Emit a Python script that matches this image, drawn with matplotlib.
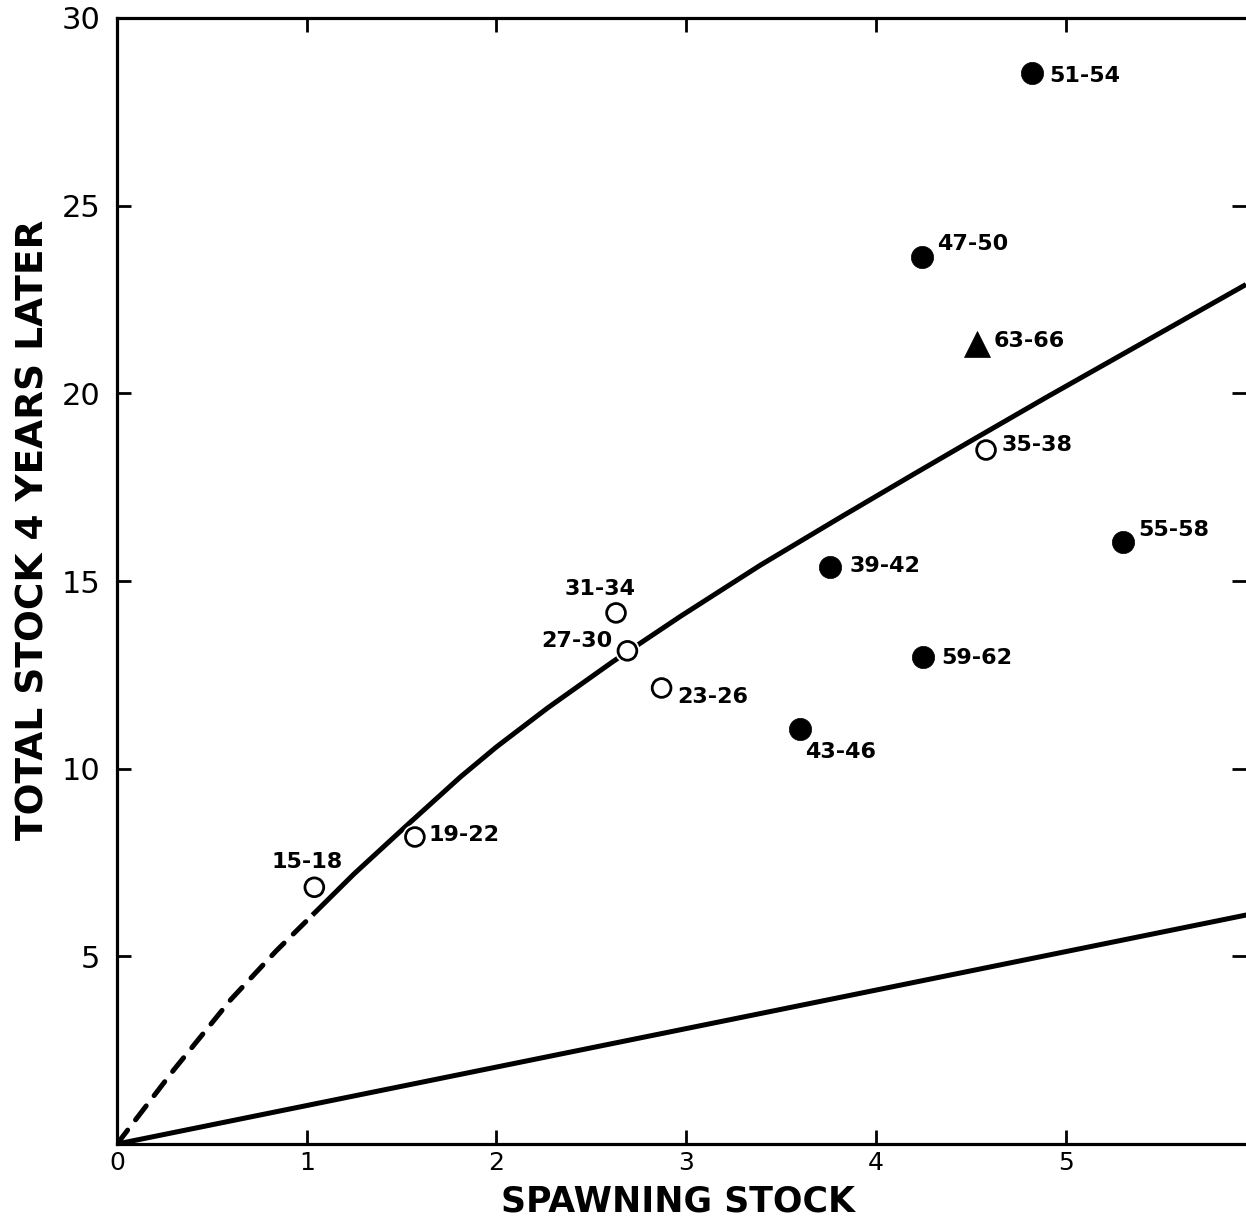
import matplotlib.pyplot as plt
import matplotlib.patheffects as pe

# spawning stock vs total stock 4 years later, by period
periods = ['15-18', '19-22', '23-26', '27-30', '31-34', '35-38',
           '39-42', '43-46', '47-50', '51-54', '55-58', '59-62', '63-66']
spawning = [1.04, 1.57, 2.87, 2.69, 2.63, 4.58,
            3.76, 3.60, 4.24, 4.82, 5.30, 4.25, 4.53]
later = [6.84, 8.18, 12.15, 13.14, 14.15, 18.49,
         15.37, 11.06, 23.63, 28.54, 16.04, 12.98, 21.32]
era = ['early'] * 6 + ['late'] * 6 + ['recent']

# fitted curve (dashed part is extrapolated to the origin)
curve_dash_x = [0.0, 0.30, 0.60, 0.84, 1.03]
curve_dash_y = [0.0, 1.98, 3.85, 5.15, 6.10]
curve_x = [1.03, 1.25, 1.53, 1.81, 2.00, 2.27, 2.61, 2.76, 2.97,
           3.39, 3.82, 4.20, 4.53, 4.90, 5.32, 5.95]
curve_y = [6.10, 7.20, 8.50, 9.78, 10.58, 11.62, 12.84, 13.35, 14.06,
           15.42, 16.72, 17.85, 18.82, 19.90, 21.10, 22.90]

# replacement line
repl_x = [0.0, 5.95]
repl_y = [0.0, 6.10]

x_ticks = [0, 1, 2, 3, 4, 5]
y_ticks = [5, 10, 15, 20, 25, 30]

# label offsets in points (dx, dy, ha)
label_pos = {
    '15-18': (-5, 18, 'center'), '19-22': (9.5, 1.5, 'left'),
    '23-26': (11, -6.5, 'left'), '27-30': (-11, 7, 'right'),
    '31-34': (-11.5, 17, 'center'), '35-38': (11, 3.5, 'left'),
    '39-42': (14, 0.5, 'left'), '43-46': (3.5, -16.5, 'left'),
    '47-50': (11.5, 9.5, 'left'), '51-54': (13, -2, 'left'),
    '55-58': (11.5, 8.5, 'left'), '59-62': (13, -0.5, 'left'),
    '63-66': (12, 2, 'left'),
}

plt.rcParams['font.family'] = ['DejaVu Sans']

fig = plt.figure(figsize=(12.46, 12.16), dpi=100)
ax = fig.add_axes([0.0939, 0.0592, 0.9061, 0.926])

ax.plot(curve_dash_x, curve_dash_y, color='black', lw=3.6, dashes=(3.5, 2.6),
        dash_capstyle='round', zorder=2)
ax.plot(curve_x, curve_y, color='black', lw=3.6, solid_capstyle='butt',
        solid_joinstyle='round', zorder=2)
ax.plot(repl_x, repl_y, color='black', lw=3.6, zorder=2)

for x, y, e in zip(spawning, later, era):
    if e == 'early':
        ax.plot(x, y, 'o', ms=13.5, mfc='white', mec='black', mew=2, zorder=4,
                path_effects=[pe.Stroke(linewidth=4.5, foreground='white'), pe.Normal()])
    elif e == 'late':
        ax.plot(x, y, 'o', ms=16, mfc='black', mec='black', mew=0.5, zorder=4)
    else:
        ax.plot(x, y, '^', ms=19, mfc='black', mec='black', mew=0.5, zorder=4)

for p, x, y in zip(periods, spawning, later):
    dx, dy, ha = label_pos[p]
    ax.annotate(p, (x, y), xytext=(dx, dy), textcoords='offset points',
                ha=ha, va='center', fontsize=16, fontweight='bold', zorder=5)

ax.set_xlim(0, 5.95)
ax.set_ylim(0, 30)
ax.set_xticks(x_ticks)
ax.set_yticks(y_ticks)
ax.set_xticklabels([str(t) for t in x_ticks], fontsize=18)
ax.set_yticklabels([str(t) for t in y_ticks], fontsize=22)

for side in ['left', 'bottom', 'top']:
    ax.spines[side].set_linewidth(2.3)
ax.spines['right'].set_visible(False)
ax.tick_params(direction='in', length=10, width=2, top=True, right=True)
ax.tick_params(axis='x', pad=5)
ax.tick_params(axis='y', pad=12)

fig.text(0.544, 1 - 1201 / 1216, 'SPAWNING STOCK', ha='center', va='center',
         fontsize=25, fontweight='bold')
fig.text(0.0265, 0.564, 'TOTAL STOCK 4 YEARS LATER', ha='center', va='center',
         rotation=90, fontsize=27, fontweight='bold')

plt.savefig('out.png', dpi=100)
